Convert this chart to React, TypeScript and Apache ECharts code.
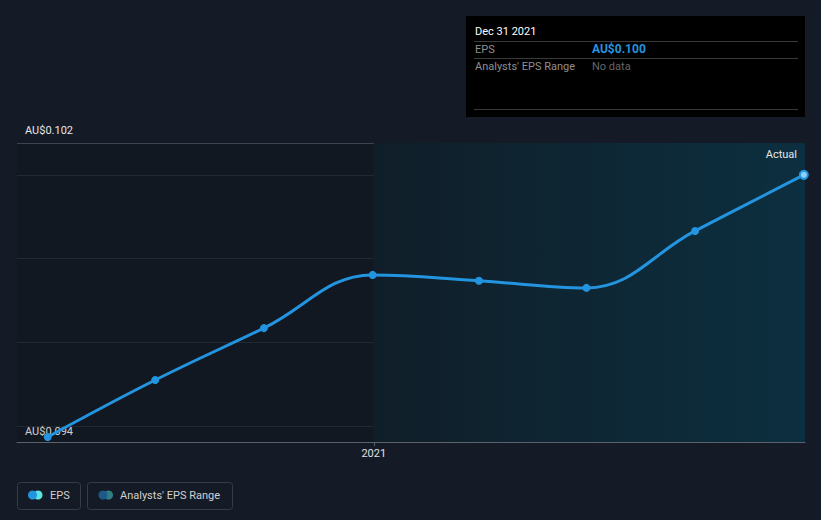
import React, { useEffect, useRef } from "react";
import * as echarts from "echarts";

// ---- data ----
const quarterDates = [
  "2020-03-31",
  "2020-06-30",
  "2020-09-30",
  "2020-12-31",
  "2021-03-31",
  "2021-06-30",
  "2021-09-30",
  "2021-12-31",
];
const epsValues = [0.09374, 0.0951, 0.09634, 0.09761, 0.09747, 0.0973, 0.09866, 0.1];
const xAxisRange = ["2020-03-05", "2022-01-01"];
const yAxisRange = [0.09362, 0.10076];
const xTickDates = ["2021-01-01"];
const xTickLabels = ["2021"];
const yTickValues = [0.094];
const yTickLabels = ["AU$0.094"];
const yTopLabel = "AU$0.102";
const actualStart = "2021-01-01";
const actualLabel = "Actual";
const tooltipDate = "Dec 31 2021";
const tooltipRows = ["EPS", "Analysts' EPS Range"];
const noDataText = "No data";
const legendItems = ["EPS", "Analysts' EPS Range"];

const ts = (s: string) => Date.parse(s + "T00:00:00Z");
const FONT = "Roboto, 'Noto Sans', sans-serif";

export default function App() {
  const ref = useRef<HTMLDivElement>(null);

  useEffect(() => {
    if (!ref.current) return;
    const chart = echarts.init(ref.current, null, { renderer: "svg" });
    const last = epsValues.length - 1;
    const xTicks = xTickDates.map(ts);
    const seriesData = quarterDates.map((d, i) => ({
      value: [ts(d), epsValues[i]],
      itemStyle:
        i === last
          ? { color: "#8fd0fb", borderColor: "#2394df", borderWidth: 2 }
          : undefined,
    }));

    const option: any = {
      animation: false,
      backgroundColor: "#151b26",
      textStyle: { fontFamily: FONT },
      grid: {
        left: 17,
        right: 16,
        top: 143,
        bottom: 78,
        containLabel: false,
        outerBoundsMode: "none",
      },
      xAxis: {
        type: "value",
        min: ts(xAxisRange[0]),
        max: ts(xAxisRange[1]),
        axisLine: { show: true, onZero: false, lineStyle: { color: "#5c626b", width: 1 } },
        axisTick: {
          show: true,
          length: 4,
          customValues: xTicks,
          lineStyle: { color: "#5c626b" },
        },
        axisLabel: {
          customValues: xTicks,
          formatter: (v: number) => {
            const idx = xTicks.indexOf(v);
            return idx >= 0 ? xTickLabels[idx] : "";
          },
          color: "#e0e0e0",
          fontSize: 11,
          fontFamily: FONT,
          margin: 6,
        },
        splitLine: { show: false },
      },
      yAxis: {
        type: "value",
        min: yAxisRange[0],
        max: yAxisRange[1],
        splitNumber: 3,
        name: yTopLabel,
        nameLocation: "end",
        nameGap: 13,
        nameTextStyle: {
          color: "#e6e6e6",
          fontSize: 11,
          fontFamily: FONT,
          align: "left",
          verticalAlign: "middle",
          padding: [0, 0, 0, 8],
        },
        axisLine: { show: false },
        axisTick: { show: false },
        axisLabel: {
          inside: true,
          margin: 8,
          color: "#e6e6e6",
          fontSize: 11,
          fontFamily: FONT,
          verticalAlign: "top",
          showMinLabel: true,
          showMaxLabel: true,
          formatter: (v: number) => {
            for (let i = 0; i < yTickValues.length; i++) {
              if (Math.abs(v - yTickValues[i]) < 1e-7) return yTickLabels[i];
            }
            return "";
          },
        },
        splitLine: {
          show: true,
          lineStyle: {
            color: ["#5c626b", "#272e38", "#272e38", "#272e38", "#272e38", "#464c55"],
            width: 1,
          },
        },
      },
      series: [
        {
          name: legendItems[0],
          type: "line",
          data: seriesData,
          smooth: 0.4,
          symbol: "circle",
          symbolSize: 8,
          showSymbol: true,
          lineStyle: { color: "#2394df", width: 3 },
          itemStyle: { color: "#2394df" },
          z: 5,
          markArea: {
            silent: true,
            data: [
              [
                {
                  xAxis: ts(xAxisRange[0]),
                  itemStyle: { color: "rgba(0,0,0,0.1)" },
                },
                { xAxis: ts(actualStart) },
              ],
              [
                {
                  xAxis: ts(actualStart),
                  itemStyle: {
                    color: new echarts.graphic.LinearGradient(0, 0, 1, 0, [
                      { offset: 0, color: "#101e29" },
                      { offset: 1, color: "#0c2f3f" },
                    ]),
                  },
                  label: {
                    show: true,
                    position: "insideTopRight",
                    formatter: actualLabel,
                    color: "#e6e6e6",
                    fontSize: 11,
                    fontFamily: FONT,
                    distance: 6,
                    padding: [0, 2, 0, 0],
                  },
                },
                { xAxis: ts(xAxisRange[1]) },
              ],
            ],
          },
        },
        {
          name: legendItems[1],
          type: "line",
          data: [],
        },
      ],
      graphic: [
        // tooltip box
        { type: "rect", shape: { x: 466, y: 16, width: 339, height: 101 }, style: { fill: "#000000" } },
        {
          type: "text",
          x: 475,
          y: 31,
          style: { text: tooltipDate, fill: "#ffffff", font: `11px ${FONT}`, verticalAlign: "middle" },
        },
        { type: "line", shape: { x1: 474, y1: 41.5, x2: 798, y2: 41.5 }, style: { stroke: "#3a3a3a", lineWidth: 1 } },
        {
          type: "text",
          x: 475,
          y: 49,
          style: { text: tooltipRows[0], fill: "#8f8f8f", font: `11px ${FONT}`, verticalAlign: "middle" },
        },
        {
          type: "text",
          x: 592,
          y: 49,
          style: {
            text: "AU$" + epsValues[last].toFixed(3),
            fill: "#2394df",
            font: `bold 12px ${FONT}`,
            verticalAlign: "middle",
          },
        },
        { type: "line", shape: { x1: 474, y1: 58.5, x2: 798, y2: 58.5 }, style: { stroke: "#3a3a3a", lineWidth: 1 } },
        {
          type: "text",
          x: 475,
          y: 66,
          style: { text: tooltipRows[1], fill: "#8f8f8f", font: `11px ${FONT}`, verticalAlign: "middle" },
        },
        {
          type: "text",
          x: 592,
          y: 66,
          style: { text: noDataText, fill: "#666666", font: `11px ${FONT}`, verticalAlign: "middle" },
        },
        { type: "line", shape: { x1: 474, y1: 109.5, x2: 798, y2: 109.5 }, style: { stroke: "#3a3a3a", lineWidth: 1 } },
        // legend
        {
          type: "rect",
          shape: { x: 17.5, y: 482.5, width: 63, height: 27, r: 3 },
          style: { fill: "none", stroke: "#363d48", lineWidth: 1 },
        },
        { type: "circle", shape: { cx: 38, cy: 495, r: 4.5 }, style: { fill: "#5ee3e0" } },
        { type: "circle", shape: { cx: 32.5, cy: 495, r: 4.5 }, style: { fill: "#2394df" } },
        {
          type: "text",
          x: 50,
          y: 495,
          style: { text: legendItems[0], fill: "#d0d0d0", font: `11px ${FONT}`, verticalAlign: "middle" },
        },
        {
          type: "rect",
          shape: { x: 87.5, y: 482.5, width: 145, height: 27, r: 3 },
          style: { fill: "none", stroke: "#363d48", lineWidth: 1 },
        },
        { type: "circle", shape: { cx: 108.5, cy: 495, r: 4.5 }, style: { fill: "#2f7f82" } },
        { type: "circle", shape: { cx: 103, cy: 495, r: 4.5 }, style: { fill: "#1d5a8a" } },
        {
          type: "text",
          x: 120,
          y: 495,
          style: { text: legendItems[1], fill: "#d0d0d0", font: `11px ${FONT}`, verticalAlign: "middle" },
        },
      ],
    };

    chart.setOption(option);
    return () => chart.dispose();
  }, []);

  return (
    <div
      ref={ref}
      style={{ position: "absolute", left: 0, top: 0, width: 821, height: 520, background: "#151b26" }}
    />
  );
}
